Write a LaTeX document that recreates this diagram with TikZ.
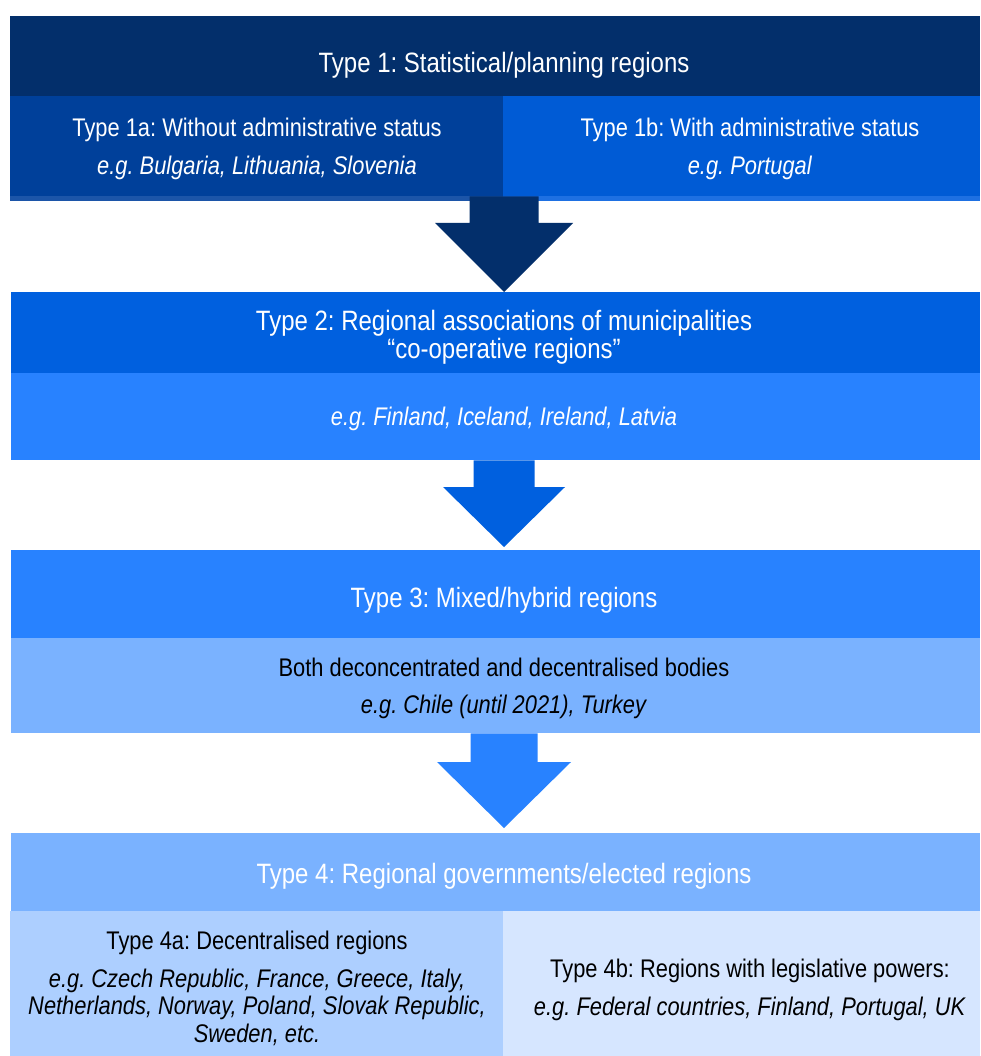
\documentclass[tikz,border=0pt]{standalone}
\usepackage{fontspec}
\setmainfont{Liberation Sans}[FakeStretch=0.857]
\usetikzlibrary{calc}
\frenchspacing

\definecolor{navy}{HTML}{032F6B}
\definecolor{royal}{HTML}{00409A}
\definecolor{cobalt}{HTML}{005BD5}
\definecolor{royalrim}{HTML}{1C55A8}
\definecolor{cobaltrim}{HTML}{1E70E2}
\definecolor{blueA}{HTML}{0060DF}
\definecolor{blueB}{HTML}{2882FF}
\definecolor{blueC}{HTML}{7AB2FF}
\definecolor{blueD}{HTML}{ADCFFF}
\definecolor{blueE}{HTML}{D6E6FF}

% block arrow: colour, upper node, tip coordinate, shaft half-width, head half-width, head length
\newcommand{\blockdown}[6]{%
  \fill[#1] let \p1=($(axis |- #2.south)$), \p2=(#3) in
    (\x1-#4pt,\y1) -- (\x1+#4pt,\y1) -- (\x1+#4pt,\y2+#6pt) -- (\x1+#5pt,\y2+#6pt)
    -- (\x2,\y2) -- (\x1-#5pt,\y2+#6pt) -- (\x1-#4pt,\y2+#6pt) -- cycle;}

\begin{document}
\begin{tikzpicture}[x=1pt,y=-1pt,
  panel/.style={fill=#1, draw=none, inner sep=0pt, anchor=north west},
  lbl/.style={font=\fontsize{25.5}{27}\selectfont, inner sep=0pt, anchor=base, text=#1},
  lbl/.default=white,
  headlbl/.style={font=\fontsize{28}{30}\selectfont, inner sep=0pt, anchor=base, text=white}]
\useasboundingbox[fill=white] (0,0) rectangle (980,1056);
\coordinate (axis) at (504,0);

% Type 1 panels
\node[panel=navy, minimum width=970pt, minimum height=80pt] (t1) at (10,16) {};
\node[panel=royal, minimum width=493pt, minimum height=100pt] (t1a) at (10,96) {};
\node[panel=cobalt, minimum width=477pt, minimum height=100pt] (t1b) at (503,96) {};
\node[panel=royalrim, minimum width=493pt, minimum height=5pt] (rima) at (10,196) {};
\node[panel=cobaltrim, minimum width=477pt, minimum height=5pt] (rimb) at (503,196) {};

% Type 2 panels
\node[panel=blueA, minimum width=969pt, minimum height=81pt] (t2) at (11,292) {};
\node[panel=blueB, minimum width=969pt, minimum height=87pt] (t2b) at (11,373) {};

% Type 3 panels
\node[panel=blueB, minimum width=969pt, minimum height=88pt] (t3) at (11,550) {};
\node[panel=blueC, minimum width=969pt, minimum height=95pt] (t3b) at (11,638) {};

% Type 4 panels
\node[panel=blueC, minimum width=969pt, minimum height=78pt] (t4) at (11,833) {};
\node[panel=blueD, minimum width=493pt, minimum height=145pt] (t4a) at (10,911) {};
\node[panel=blueE, minimum width=477pt, minimum height=145pt] (t4b) at (503,911) {};

% arrow tips
\coordinate (tip1) at (504,292);
\coordinate (tip2) at (504,547);
\coordinate (tip3) at (504,828);

\blockdown{navy}{t1a}{tip1}{34.5}{69}{69}
\blockdown{blueA}{t2b}{tip2}{30.5}{61}{60}
\blockdown{blueB}{t3b}{tip3}{33.5}{67}{66}

% texts
\node[headlbl] (l1) at (504,73) {Type 1: Statistical/planning regions};
\node[lbl] (l1a) at (257,137) {Type 1a: Without administrative status};
\node[lbl] (l1ae) at (257,175) {\textit{e.g. Bulgaria, Lithuania, Slovenia}};
\node[lbl] (l1b) at (750,137) {Type 1b: With administrative status};
\node[lbl] (l1be) at (750,175) {\textit{e.g. Portugal}};

\node[headlbl] (l2) at (504,330) {Type 2: Regional associations of municipalities};
\node[headlbl] (l2q) at (504,358) {“co-operative regions”};
\node[lbl] (l2e) at (504,425) {\textit{e.g. Finland, Iceland, Ireland, Latvia}};

\node[headlbl] (l3) at (504,607) {Type 3: Mixed/hybrid regions};
\node[lbl=black] (l3b) at (504,676) {Both deconcentrated and decentralised bodies};
\node[lbl=black] (l3e) at (504,713) {\textit{e.g. Chile (until 2021), Turkey}};

\node[headlbl] (l4) at (504,883) {Type 4: Regional governments/elected regions};
\node[lbl=black] (l4a) at (257,949) {Type 4a: Decentralised regions};
\node[lbl=black] (l4a1) at (257,987) {\textit{e.g. Czech Republic, France, Greece, Italy,}};
\node[lbl=black] (l4a2) at (257,1014) {\textit{Netherlands, Norway, Poland, Slovak Republic,}};
\node[lbl=black] (l4a3) at (257,1042) {\textit{Sweden, etc.}};
\node[lbl=black] (l4b) at (750,977) {Type 4b: Regions with legislative powers:};
\node[lbl=black] (l4be) at (750,1015) {\textit{e.g. Federal countries, Finland, Portugal, UK}};
\end{tikzpicture}
\end{document}
